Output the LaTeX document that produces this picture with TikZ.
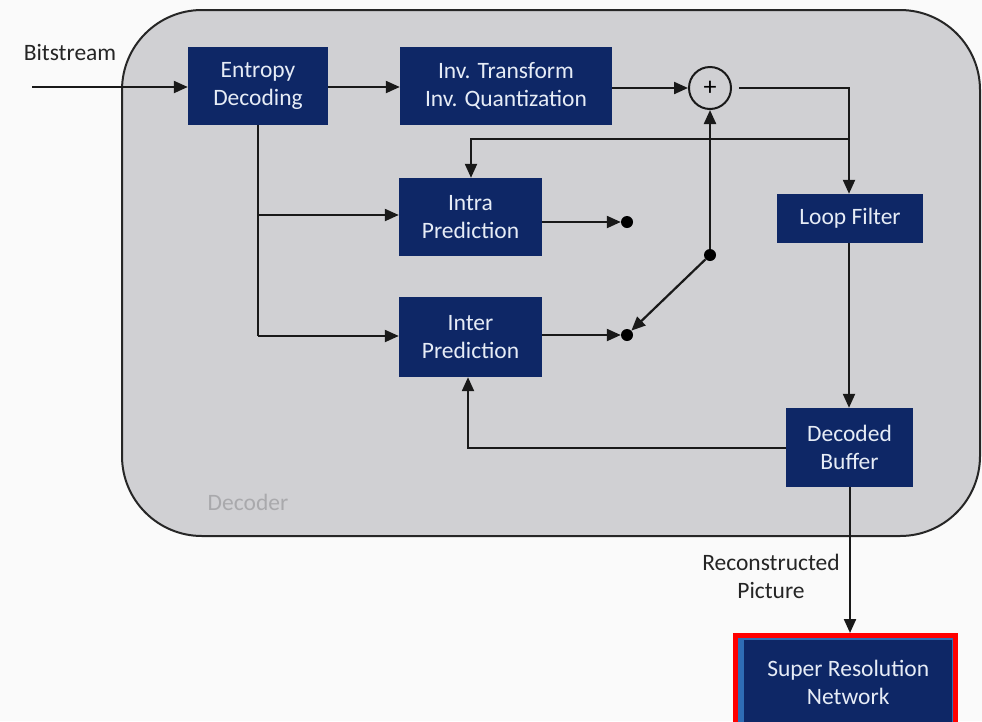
\documentclass[tikz,border=0pt]{standalone}
\usepackage{fontspec}
\setmainfont{Carlito}
\usetikzlibrary{arrows.meta,calc}
\definecolor{navy}{HTML}{0E2766}
\definecolor{boxtext}{HTML}{E6ECF6}
\definecolor{panel}{HTML}{D0D0D3}
\definecolor{labeltext}{HTML}{252525}
\definecolor{paneltitle}{HTML}{A9A9AC}
\definecolor{highlight}{HTML}{FF0000}
\definecolor{rim}{HTML}{2F6DB5}
\tikzset{
  blockbox/.style={fill=navy, text=boxtext, align=center, font=\fontsize{23.5}{28}\selectfont,
    inner sep=0pt, draw=none},
  flow/.style={line width=2.2pt, draw=black!90, -{Triangle[length=14pt,width=12pt]}},
  plainline/.style={line width=2.2pt, draw=black!90},
  junction/.style={circle, fill=black, inner sep=0pt, minimum size=12pt},
  caption/.style={text=labeltext, font=\fontsize{23.5}{28}\selectfont, align=center},
}
\begin{document}
\begin{tikzpicture}[x=1pt,y=-1pt]
  \useasboundingbox (0,0) rectangle (982,721);
  \fill[white!98!black] (0,0) rectangle (982,721);

  % decoder panel
  \draw[fill=panel, line width=2pt, draw=black!85, rounded corners=80pt]
    (122,10) rectangle (980,536);
  \node[text=paneltitle, font=\fontsize{23.5}{28}\selectfont] (dectitle) at (248,502) {Decoder};

  % processing blocks
  \node[blockbox, minimum width=140pt, minimum height=78pt] (ent) at (258,86) {Entropy\\Decoding};
  \node[blockbox, minimum width=212pt, minimum height=78pt] (inv) at (506,86) {Inv. Transform\\Inv. Quantization};
  \node[blockbox, minimum width=143pt, minimum height=78pt] (intra) at (470.5,217) {Intra\\Prediction};
  \node[blockbox, minimum width=143pt, minimum height=80pt] (inter) at (470.5,337) {Inter\\Prediction};
  \node[blockbox, minimum width=146pt, minimum height=49pt] (loop) at (850,218.5) {Loop Filter};
  \node[blockbox, minimum width=127pt, minimum height=79pt] (dpb) at (849.5,447.5) {Decoded\\Buffer};

  % adder
  \node[circle, draw=black!90, line width=2pt, minimum size=42pt, inner sep=0pt,
        font=\fontsize{26}{30}\selectfont] (sum) at (710,88) {+};

  % mode switch contacts
  \node[junction] (dintra) at (627,222) {};
  \node[junction] (dinter) at (627,335) {};
  \node[junction] (dsw) at (710,255) {};

  % super resolution stage
  \fill[highlight] (733,633) rectangle (958,725);
  \fill[rim] (738,638) rectangle (953,725);
  \node[blockbox, minimum width=208pt, minimum height=85pt, anchor=north west,
        font=\fontsize{23.5}{28}\selectfont] (sr) at (744,640) {Super Resolution\\Network};

  % labels
  \node[caption] (bits) at (70,52) {Bitstream};
  \node[caption] (recon) at (771,576) {Reconstructed\\Picture};

  % helper points
  \coordinate (bitin) at (32,87);
  \coordinate (fork) at (849,139);

  % connectors
  \draw[flow] (bitin) -- (bitin -| ent.west);
  \draw[flow] (ent.east |- 0,87) -- (inv.west |- 0,87);
  \draw[flow] (inv.east |- sum) -- (sum.west);
  \draw[flow, shorten <=7pt] (sum.east) -- (sum.east -| fork) -- (loop.north -| fork);
  \draw[flow] (fork) -- (471,139) -- (intra.north -| 471,0);
  \draw[plainline] (ent.south) -- (258,336);
  \draw[flow] (258,215) -- (intra.west |- 0,215);
  \draw[flow] (258,336) -- (inter.west |- 0,336);
  \draw[flow] (intra.east |- dintra) -- (dintra.west);
  \draw[flow] (inter.east |- dinter) -- (dinter.west);
  \draw[flow] (dsw) -- (sum.south);
  \draw[flow] (dsw) -- (dinter.north east);
  \draw[flow] (loop.south -| 849,0) -- (dpb.north -| 849,0);
  \draw[flow] (dpb.west |- 0,448) -- (468,448) -- (inter.south -| 468,0);
  \draw[flow] (dpb.south -| 850,0) -- (850,633);
\end{tikzpicture}
\end{document}
